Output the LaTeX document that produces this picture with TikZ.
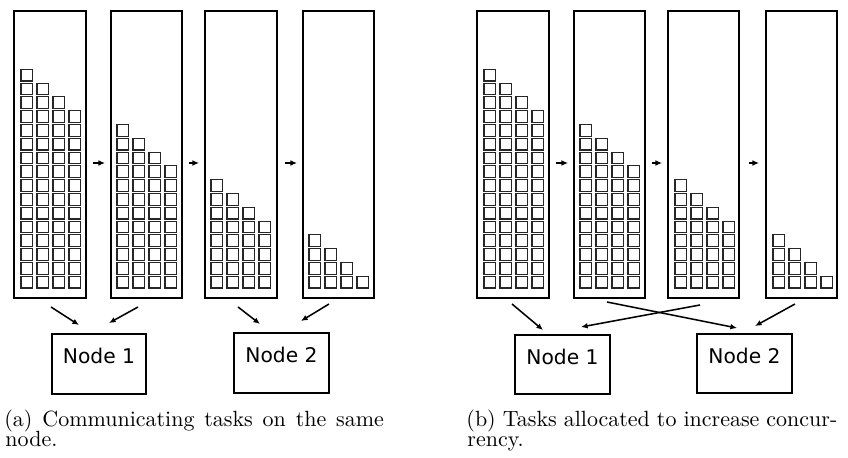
\documentclass[tikz,border=0pt]{standalone}
\usepackage{fontspec}
\newfontfamily\nodefont{DejaVu Sans}
\usetikzlibrary{fit,calc,arrows.meta}
\begin{document}
\begin{tikzpicture}[x=0.4545pt,y=-0.4545pt,
  colbox/.style={draw,line width=0.9pt,inner sep=0pt},
  task/.style={draw=black!85,line width=0.5pt},
  hostbox/.style={draw,line width=0.9pt,inner sep=0pt,text height=4pt,text depth=0pt,
    font=\nodefont\fontsize{9.2}{11}\selectfont},
  arr/.style={line width=0.7pt,-{Latex[length=3pt,width=2.6pt]}},
  captext/.style={anchor=base west,inner sep=0pt,font=\fontsize{10}{12}\selectfont}]
\useasboundingbox (0,0) rectangle (848,458);

% task columns
\node[colbox,fit={(14,11) (86,298)}] (a1) {};
\node[colbox,fit={(111,11) (182,298)}] (a2) {};
\node[colbox,fit={(205,11) (277,298)}] (a3) {};
\node[colbox,fit={(303,11) (374,298)}] (a4) {};
\node[colbox,fit={(477,11) (549,298)}] (b1) {};
\node[colbox,fit={(574,11) (645,298)}] (b2) {};
\node[colbox,fit={(668,11) (739,298)}] (b3) {};
\node[colbox,fit={(766,11) (837,298)}] (b4) {};

% tasks
\foreach \sx/\tp in {21/16,117/12,211/8,309/4,484/16,580/12,675/8,773/4} {
  \foreach \j in {0,...,3} {
    \pgfmathtruncatemacro\nr{\tp-\j}
    \foreach \k in {1,...,\nr} {
      \draw[task] ({\sx+16*\j},{288-13.8*(\k-1)}) rectangle ++(11.7,-11.7);
    }
  }
}

% hosts
\node[hostbox,fit={(52,334) (146,394)}] (n1) {Node 1};
\node[hostbox,fit={(234,333) (329,393)}] (n2) {Node 2};
\node[hostbox,fit={(515,335) (610,394)}] (m1) {Node 1};
\node[hostbox,fit={(697,334) (792,393)}] (m2) {Node 2};

% horizontal arrows
\draw[arr] ($(a1.east)+(6,8.5)$) -- ($(a2.west)+(-5,8.5)$);
\draw[arr] ($(a2.east)+(6,8.5)$) -- ($(a3.west)+(-5,8.5)$);
\draw[arr] ($(a3.east)+(7,8.5)$) -- ($(a4.west)+(-5,8.5)$);
\draw[arr] ($(b1.east)+(6,8.5)$) -- ($(b2.west)+(-5,8.5)$);
\draw[arr] ($(b2.east)+(6,8.5)$) -- ($(b3.west)+(-5,8.5)$);
\draw[arr] ($(b3.east)+(9,8.5)$) -- ($(b4.west)+(-6,8.5)$);

% allocation arrows (a)
\draw[arr] ($(a1.south)+(1,8)$) -- ($(n1.north)+(-20,-8)$);
\draw[arr] ($(a2.south)+(-8.5,8)$) -- ($(n1.north)+(10,-10)$);
\draw[arr] ($(a3.south)+(-3,8)$) -- ($(n2.north)+(-21.5,-8)$);
\draw[arr] ($(a4.south)+(-9.5,5)$) -- ($(n2.north)+(19.5,-11)$);

% allocation arrows (b)
\draw[arr] ($(b1.south)+(-1,5)$) -- ($(m1.north)+(-19.5,-4)$);
\draw[arr] ($(b2.south)+(-2.5,3)$) -- ($(m2.north)+(-7.5,-5)$);
\draw[arr] ($(b3.south)+(-3.5,6)$) -- ($(m1.north)+(18.5,-7)$);
\draw[arr] ($(b4.south)+(-6.5,5)$) -- ($(m2.north)+(10.5,-7)$);

% captions
\node[captext] (capa1) at (4,426) {\makebox[172.5pt][s]{(a) Communicating tasks on the same}};
\node[captext] (capa2) at (5,446) {node.};
\node[captext] (capb1) at (466,426) {\makebox[168.6pt][s]{(b) Tasks allocated to increase concur-}};
\node[captext] (capb2) at (467,446) {rency.};
\end{tikzpicture}
\end{document}
